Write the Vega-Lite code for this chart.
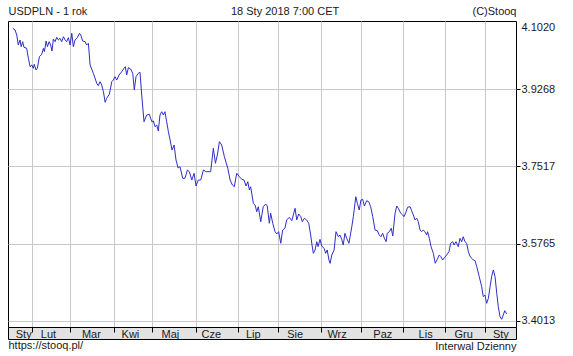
{
 "$schema": "https://vega.github.io/schema/vega-lite/v6.json",
 "width": 508,
 "height": 306,
 "autosize": {"type": "none"},
 "padding": {"left": 8, "top": 21, "right": 57, "bottom": 29},
 "background": "white",
 "config": {
  "view": {"stroke": "#000000", "strokeWidth": 1},
  "font": "Liberation Sans",
  "axis": {"labelFont": "Liberation Sans", "titleFont": "Liberation Sans", "labelFontSize": 11, "titleFontSize": 11, "titleFontWeight": "normal", "labelColor": "#1a1a1a", "titleColor": "#1a1a1a", "labelFlush": false, "labelOverlap": false}
 },
 "title": {"text": "18 Sty 2018 7:00 CET", "anchor": "middle", "frame": "bounds", "font": "Liberation Sans", "fontSize": 11, "fontWeight": "normal", "color": "#1a1a1a", "offset": -12, "dx": 4},
 "data": {"values": [
  {"d":0,"v":4.0644},{"d":1.2,"v":4.0605},{"d":2.1,"v":4.0492},{"d":2.9,"v":4.0265},{"d":3.8,"v":4.0379},{"d":4.4,"v":4.0227},{"d":5.2,"v":4.0340},{"d":5.9,"v":4.0213},{"d":7.3,"v":4.0191},{"d":8.2,"v":3.9964},
  {"d":9.1,"v":3.9774},{"d":10.0,"v":3.9812},{"d":10.8,"v":3.9737},{"d":11.3,"v":3.9828},{"d":12.2,"v":3.9699},{"d":12.9,"v":3.9737},{"d":14.0,"v":4.0000},{"d":15.2,"v":4.0055},{"d":16.1,"v":4.0191},{"d":16.6,"v":4.0113},
  {"d":17.5,"v":4.0356},{"d":18.2,"v":4.0227},{"d":19.1,"v":4.0340},{"d":19.9,"v":4.0265},{"d":20.6,"v":4.0129},{"d":21.3,"v":4.0401},{"d":22.2,"v":4.0340},{"d":23.1,"v":4.0440},{"d":23.9,"v":4.0379},{"d":24.8,"v":4.0417},
  {"d":25.7,"v":4.0340},{"d":26.6,"v":4.0453},{"d":27.5,"v":4.0379},{"d":28.3,"v":4.0340},{"d":29.2,"v":4.0431},{"d":30.1,"v":4.0265},{"d":31.0,"v":4.0530},{"d":31.8,"v":4.0227},{"d":32.7,"v":4.0379},{"d":33.9,"v":4.0431},
  {"d":35.0,"v":4.0530},{"d":35.7,"v":4.0492},{"d":36.7,"v":4.0356},{"d":38.0,"v":4.0340},{"d":38.8,"v":4.0265},{"d":39.7,"v":4.0304},{"d":40.6,"v":3.9812},{"d":42.3,"v":3.9624},{"d":44.1,"v":3.9397},{"d":44.9,"v":3.9343},
  {"d":45.8,"v":3.9434},{"d":46.7,"v":3.9359},{"d":47.6,"v":3.9207},{"d":48.5,"v":3.8967},{"d":49.3,"v":3.9058},{"d":50.7,"v":3.9148},{"d":52.0,"v":3.9434},{"d":52.8,"v":3.9472},{"d":53.7,"v":3.9547},{"d":54.6,"v":3.9472},
  {"d":55.8,"v":3.9585},{"d":57.2,"v":3.9660},{"d":58.4,"v":3.9737},{"d":59.1,"v":3.9774},{"d":59.8,"v":3.9585},{"d":60.7,"v":3.9751},{"d":61.9,"v":3.9721},{"d":63.0,"v":3.9624},{"d":63.8,"v":3.9246},{"d":64.7,"v":3.9547},
  {"d":65.9,"v":3.9624},{"d":66.8,"v":3.9647},{"d":67.7,"v":3.9132},{"d":68.9,"v":3.8527},{"d":70.3,"v":3.8679},{"d":71.7,"v":3.8695},{"d":73.0,"v":3.8527},{"d":73.8,"v":3.8543},{"d":74.7,"v":3.8414},{"d":75.6,"v":3.8452},
  {"d":76.4,"v":3.8317},{"d":77.3,"v":3.8679},{"d":78.2,"v":3.8754},{"d":79.1,"v":3.8679},{"d":79.9,"v":3.8754},{"d":80.8,"v":3.8527},{"d":81.7,"v":3.8301},{"d":82.6,"v":3.8113},{"d":83.6,"v":3.7886},{"d":84.7,"v":3.7999},
  {"d":85.7,"v":3.7659},{"d":86.8,"v":3.7478},{"d":87.8,"v":3.7508},{"d":89.2,"v":3.7245},{"d":90.4,"v":3.7245},{"d":91.7,"v":3.7433},{"d":92.7,"v":3.7394},{"d":94.0,"v":3.7206},{"d":95.2,"v":3.7358},{"d":96.2,"v":3.7070},
  {"d":97.4,"v":3.7206},{"d":98.7,"v":3.7206},{"d":100.1,"v":3.7433},{"d":101.5,"v":3.7394},{"d":103.9,"v":3.7394},{"d":105.3,"v":3.7924},{"d":106.4,"v":3.7585},{"d":107.4,"v":3.7773},{"d":108.5,"v":3.8074},{"d":109.7,"v":3.7999},
  {"d":111.1,"v":3.7734},{"d":112.9,"v":3.7471},{"d":114.1,"v":3.7206},{"d":115.3,"v":3.7093},{"d":116.3,"v":3.7054},{"d":117.6,"v":3.7358},{"d":119.0,"v":3.7281},{"d":120.2,"v":3.7222},{"d":121.4,"v":3.7206},{"d":122.5,"v":3.7070},
  {"d":123.4,"v":3.7168},{"d":124.2,"v":3.6980},{"d":124.9,"v":3.7054},{"d":126.3,"v":3.6678},{"d":127.2,"v":3.6640},{"d":128.1,"v":3.6488},{"d":128.9,"v":3.6601},{"d":130.2,"v":3.6261},{"d":131.5,"v":3.6601},{"d":132.8,"v":3.6662},
  {"d":133.6,"v":3.6617},{"d":134.7,"v":3.6225},{"d":135.4,"v":3.6452},{"d":136.5,"v":3.6225},{"d":137.7,"v":3.6035},{"d":138.6,"v":3.5983},{"d":139.6,"v":3.6035},{"d":140.7,"v":3.5772},{"d":141.7,"v":3.6073},{"d":142.9,"v":3.6112},
  {"d":143.8,"v":3.6300},{"d":145.2,"v":3.6361},{"d":146.5,"v":3.6284},{"d":147.3,"v":3.6413},{"d":148.2,"v":3.6565},{"d":149.1,"v":3.6300},{"d":150.1,"v":3.6436},{"d":151.2,"v":3.6375},{"d":152.0,"v":3.6261},{"d":153.1,"v":3.6338},
  {"d":154.3,"v":3.6300},{"d":155.4,"v":3.6225},{"d":156.4,"v":3.5960},{"d":157.1,"v":3.5733},{"d":157.8,"v":3.5545},{"d":158.7,"v":3.5620},{"d":159.6,"v":3.5808},{"d":160.3,"v":3.5695},{"d":161.3,"v":3.5862},{"d":162.2,"v":3.5711},
  {"d":163.4,"v":3.5659},{"d":164.3,"v":3.5545},{"d":165.1,"v":3.5620},{"d":166.0,"v":3.5393},{"d":166.6,"v":3.5318},{"d":167.5,"v":3.5507},{"d":168.7,"v":3.5620},{"d":169.7,"v":3.6035},{"d":170.9,"v":3.5921},{"d":171.8,"v":3.5960},
  {"d":172.7,"v":3.5862},{"d":173.5,"v":3.5733},{"d":174.4,"v":3.5998},{"d":175.3,"v":3.5885},{"d":176.5,"v":3.5772},{"d":178.0,"v":3.6148},{"d":178.8,"v":3.6375},{"d":180.1,"v":3.6828},{"d":180.9,"v":3.6678},{"d":181.9,"v":3.6526},
  {"d":182.8,"v":3.6753},{"d":183.7,"v":3.6769},{"d":184.6,"v":3.6617},{"d":185.8,"v":3.6737},{"d":186.9,"v":3.6714},{"d":187.9,"v":3.6601},{"d":189.0,"v":3.6375},{"d":190.2,"v":3.6073},{"d":191.4,"v":3.6057},{"d":192.4,"v":3.5960},
  {"d":193.3,"v":3.5921},{"d":194.2,"v":3.5998},{"d":195.1,"v":3.5885},{"d":196.0,"v":3.5808},{"d":196.6,"v":3.5998},{"d":197.7,"v":3.6035},{"d":198.7,"v":3.6112},{"d":199.5,"v":3.5937},{"d":200.7,"v":3.6452},{"d":201.6,"v":3.6617},
  {"d":202.4,"v":3.6565},{"d":203.7,"v":3.6452},{"d":204.7,"v":3.6413},{"d":205.4,"v":3.6375},{"d":206.5,"v":3.6488},{"d":207.3,"v":3.6588},{"d":208.6,"v":3.6601},{"d":209.4,"v":3.6510},{"d":210.3,"v":3.6413},{"d":211.2,"v":3.6300},
  {"d":212.1,"v":3.6338},{"d":212.9,"v":3.6261},{"d":213.8,"v":3.6073},{"d":214.7,"v":3.6035},{"d":215.5,"v":3.6073},{"d":216.4,"v":3.6035},{"d":217.3,"v":3.5960},{"d":217.8,"v":3.6035},{"d":218.7,"v":3.5885},{"d":219.6,"v":3.5695},
  {"d":220.8,"v":3.5545},{"d":221.8,"v":3.5318},{"d":222.9,"v":3.5409},{"d":223.9,"v":3.5507},{"d":224.8,"v":3.5468},{"d":225.7,"v":3.5393},{"d":226.8,"v":3.5454},{"d":227.8,"v":3.5507},{"d":229.0,"v":3.5581},{"d":229.9,"v":3.5772},
  {"d":231.0,"v":3.5808},{"d":231.7,"v":3.5733},{"d":232.7,"v":3.5808},{"d":233.9,"v":3.5695},{"d":234.8,"v":3.5885},{"d":235.7,"v":3.5808},{"d":236.5,"v":3.5921},{"d":237.4,"v":3.5808},{"d":238.3,"v":3.5772},{"d":239.2,"v":3.5581},
  {"d":240.0,"v":3.5484},{"d":240.9,"v":3.5432},{"d":241.8,"v":3.5393},{"d":242.7,"v":3.5378},{"d":243.6,"v":3.5242},{"d":244.9,"v":3.5015},{"d":246.2,"v":3.4788},{"d":247.0,"v":3.4562},{"d":247.9,"v":3.4600},{"d":248.8,"v":3.4412},
  {"d":249.7,"v":3.4525},{"d":250.6,"v":3.4788},{"d":251.4,"v":3.5015},{"d":252.3,"v":3.5167},{"d":253.2,"v":3.5015},{"d":254.1,"v":3.4639},{"d":254.9,"v":3.4335},{"d":255.8,"v":3.4109},{"d":256.7,"v":3.4050},{"d":257.5,"v":3.4147},
  {"d":258.3,"v":3.4245},{"d":259.3,"v":3.4170}
 ]},
 "layer": [
  {
   "mark": {"type": "line", "opacity": 0},
   "encoding": {
    "x": {"field": "d", "type": "quantitative", "scale": {"domain": [-2.5, 264.2], "nice": false, "zero": false},
     "axis": {"orient": "bottom", "grid": false, "ticks": false, "labels": false, "offset": 6, "domain": true, "domainColor": "#e2e2e2", "domainWidth": 12, "domainCap": "butt", "title": null}},
    "y": {"field": "v", "type": "quantitative", "scale": {"domain": [3.3875, 4.0809], "nice": false, "zero": false}, "axis": null}
   }
  },
  {
   "mark": {"type": "line", "color": "#2e2ec6", "strokeWidth": 1, "clip": true},
   "encoding": {
    "x": {"field": "d", "type": "quantitative", "scale": {"domain": [-2.5, 264.2], "nice": false, "zero": false},
     "axis": {"orient": "bottom", "values": [5.5, 18.5, 41, 61.5, 82.5, 104, 126, 148, 170, 194, 216.5, 236.5, 256],
      "labelExpr": "datum.value < 10 ? 'Sty' : datum.value < 30 ? 'Lut' : datum.value < 53 ? 'Mar' : datum.value < 73 ? 'Kwi' : datum.value < 96 ? 'Maj' : datum.value < 118 ? 'Cze' : datum.value < 139 ? 'Lip' : datum.value < 162 ? 'Sie' : datum.value < 183 ? 'Wrz' : datum.value < 205 ? 'Paz' : datum.value < 227 ? 'Lis' : datum.value < 248 ? 'Gru' : 'Sty'",
      "grid": false, "ticks": false, "tickSize": 0, "offset": 6, "domain": false,
      "labelBaseline": "alphabetic", "labelPadding": 4.5, "labelAlign": "center",
      "title": "https://stooq.pl/", "titleAnchor": "start", "titleAlign": "left", "titleBaseline": "top", "titlePadding": 0}},
    "y": {"field": "v", "type": "quantitative", "scale": {"domain": [3.3875, 4.0809], "nice": false, "zero": false},
     "axis": {"orient": "right", "values": [3.4013, 3.5765, 3.7517, 3.9268], "format": ".4f",
      "grid": true, "gridColor": "#c8c8c8",
      "ticks": true, "tickSize": 4, "tickColor": "#000000",
      "domain": false, "labelPadding": 1, "title": null}}
   }
  },
  {
   "mark": {"type": "line", "opacity": 0},
   "encoding": {
    "x": {"field": "d", "type": "quantitative", "scale": {"domain": [-2.5, 264.2], "nice": false, "zero": false}, "axis": null},
    "y": {"field": "v", "type": "quantitative", "scale": {"domain": [3.0, 4.12404], "nice": false, "zero": false},
     "axis": {"orient": "right", "values": [4.1020], "format": ".4f", "grid": false, "ticks": false, "tickSize": 0, "domain": false, "labelPadding": 5, "title": null}}
   }
  },
  {
   "mark": {"type": "line", "opacity": 0},
   "encoding": {
    "x": {"field": "d", "type": "quantitative", "scale": {"domain": [-2.5, 264.2], "nice": false, "zero": false},
     "axis": {"orient": "bottom", "values": [10, 30, 53, 73, 96, 118, 139, 162, 183, 205, 227, 248],
      "grid": true, "gridColor": "#c8c8c8", "ticks": true, "tickSize": 5, "tickColor": "#000000", "labels": false, "domain": true, "domainColor": "#000000", "title": null}},
    "y": {"field": "v", "type": "quantitative", "axis": null}
   }
  },
  {
   "mark": {"type": "line", "opacity": 0},
   "encoding": {
    "x": {"field": "d", "type": "quantitative", "scale": {"domain": [-2.5, 264.2], "nice": false, "zero": false},
     "axis": {"orient": "bottom", "values": [-2.5, 264.2], "offset": 12, "grid": false, "ticks": true, "tickSize": -12, "tickColor": "#000000", "labels": false, "domain": true, "domainColor": "#000000",
      "title": "Interwal Dzienny", "titleAnchor": "end", "titleAlign": "right", "titleBaseline": "top", "titlePadding": 1}},
    "y": {"field": "v", "type": "quantitative", "axis": null}
   }
  },
  {
   "mark": {"type": "line", "opacity": 0},
   "encoding": {
    "x": {"field": "d", "type": "quantitative", "scale": {"domain": [-2.5, 264.2], "nice": false, "zero": false},
     "axis": {"orient": "top", "grid": false, "ticks": false, "labels": false, "domain": false,
      "title": "USDPLN - 1 rok", "titleAnchor": "start", "titleAlign": "left", "titlePadding": 5}},
    "y": {"field": "v", "type": "quantitative", "axis": null}
   }
  },
  {
   "mark": {"type": "line", "opacity": 0},
   "encoding": {
    "x": {"field": "d", "type": "quantitative", "scale": {"domain": [-2.5, 264.2], "nice": false, "zero": false},
     "axis": {"orient": "top", "grid": false, "ticks": false, "labels": false, "domain": false,
      "title": "(C)Stooq", "titleAnchor": "end", "titleAlign": "right", "titlePadding": 5}},
    "y": {"field": "v", "type": "quantitative", "axis": null}
   }
  }
 ],
 "resolve": {"scale": {"y": "independent"}, "axis": {"x": "independent", "y": "independent"}}
}
